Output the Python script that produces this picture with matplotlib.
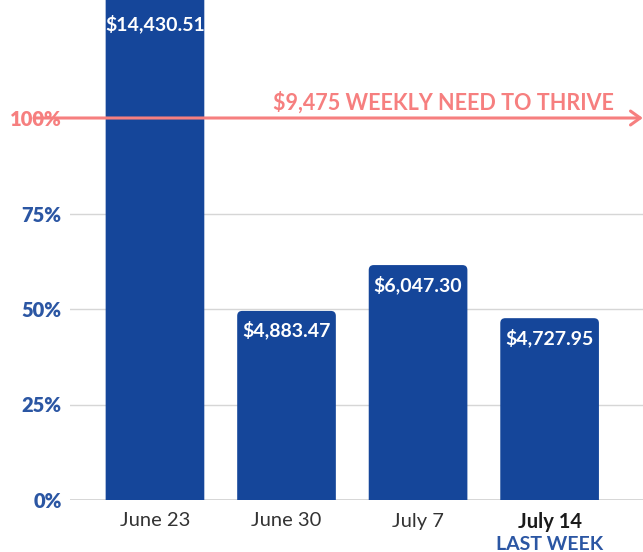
import matplotlib
matplotlib.use("Agg")
import matplotlib.pyplot as plt
from matplotlib.patches import FancyBboxPatch

categories = ["June 23", "June 30", "July 7", "July 14"]
amounts = [14430.51, 4883.47, 6047.30, 4727.95]
# bar heights as % of weekly need
heights_pct = [152.3, 49.5, 61.5, 47.6]
ytick_vals = [0, 25, 50, 75, 100]
ytick_labels = ["0%", "25%", "50%", "75%", "100%"]
need_label = "$9,475 WEEKLY NEED TO THRIVE"
sub_label = "LAST WEEK"

BAR = "#15469a"
BLUE = "#2b56a3"
SALMON = "#f67f7f"
GRID = "#d6d6d6"

plt.rcParams['font.family'] = ['Lato', 'DejaVu Sans']

fig = plt.figure(figsize=(6.43, 5.52), dpi=100)
W, H = 643, 552
ax = fig.add_axes([70 / W, 52 / H, 1 - 70 / W, 1 - 52 / H])
ytop = 500 / 3.82
ax.set_ylim(0, ytop)
ax.set_xlim(-0.646, 3.71)

for s in ax.spines.values():
    s.set_visible(False)

for v in [25, 50, 75]:
    ax.axhline(v, color=GRID, lw=1, zorder=0)
ax.axhline(0, color="#cfcfcf", lw=1.2, zorder=0)

bw = 0.75
ax_w_px = W - 70
ax_h_px = 500
data_per_px_x = (3.71 + 0.646) / ax_w_px
data_per_px_y = ytop / ax_h_px
aspect = data_per_px_y / data_per_px_x
r = 5 * data_per_px_x
for i, h in enumerate(heights_pct):
    p = FancyBboxPatch((i - bw / 2, -10), bw, h + 10,
                       boxstyle=f"round,pad=0,rounding_size={r}",
                       mutation_aspect=aspect, fc=BAR, ec="none", zorder=2)
    ax.add_patch(p)
    clipped = h > ytop
    top = min(h, ytop)
    ax.annotate(f"${amounts[i]:,.2f}", (i, top),
                xytext=(0, -17 if clipped else -14),
                textcoords="offset points", ha="center", va="center",
                color="white", fontsize=14, fontweight="bold", zorder=3)

ax.set_yticks(ytick_vals)
ax.set_yticklabels(ytick_labels)
ax.tick_params(axis="y", length=0, pad=6)
for lab in ax.get_yticklabels():
    lab.set_fontweight("heavy")
    lab.set_fontsize(14.5)
    lab.set_color(BLUE)
ax.get_yticklabels()[-1].set_color(SALMON)

ax.set_xticks(range(len(categories)))
ax.set_xticklabels(categories)
ax.tick_params(axis="x", length=0, pad=9)
for lab in ax.get_xticklabels():
    lab.set_fontsize(14.5)
    lab.set_color("#333333")
ax.get_xticklabels()[-1].set_fontweight("bold")
ax.get_xticklabels()[-1].set_color("#1a1a1a")
ax.text(3, -0.09, sub_label, transform=ax.get_xaxis_transform(),
        ha="center", va="center", fontsize=14, fontweight="bold", color=BLUE)

# 100% need line with arrow
ax.annotate("", xy=(3.73, 100), xytext=(-0.94, 100),
            arrowprops=dict(arrowstyle="->,head_length=0.7,head_width=0.5",
                            color=SALMON, lw=2.2),
            annotation_clip=False, zorder=4)
ax.text(3.49, 104, need_label, ha="right", va="center", color=SALMON,
        fontsize=15.5, fontweight="bold", zorder=4)

fig.savefig("out.png", dpi=100)
